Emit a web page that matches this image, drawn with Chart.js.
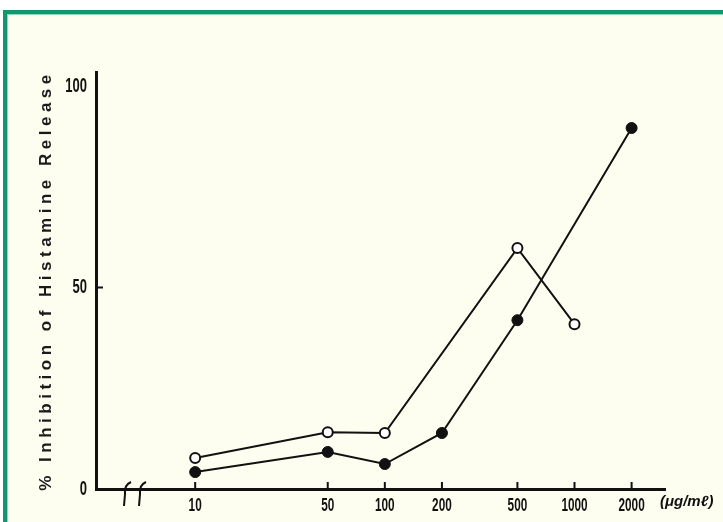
<!DOCTYPE html>
<html>
<head>
<meta charset="utf-8">
<script src="https://cdn.jsdelivr.net/npm/chart.js@4"></script>
<style>
  html, body { margin: 0; padding: 0; background: #ffffff; }
  #frame {
    position: absolute; left: 3px; top: 10px; width: 720px; height: 512px;
    box-sizing: border-box;
    border-left: 4px solid #13956e; border-top: 4px solid #13956e;
    background: #fdfef0;
    box-shadow: inset 1px 1px 0 #8fd6b9;
  }
  #chart { position: absolute; left: 0; top: 0; }
</style>
</head>
<body>
<div id="frame"></div>
<canvas id="chart" width="723" height="522"></canvas>
<script>
// Concentrations (µg/ml) and % inhibition of histamine release
const openDoses   = [10, 50, 100, 500, 1000];
const openValues  = [7.7, 14.1, 13.9, 59.8, 40.9];
const solidDoses  = [10, 50, 100, 200, 500, 2000];
const solidValues = [4.2, 9.2, 6.2, 13.9, 41.9, 89.6];

const xTickValues = [10, 50, 100, 200, 500, 1000, 2000];
const yTickValues = [0, 50, 100];
const yTitle = '% Inhibition of Histamine Release';
const unitLabel = '(\u03bcg/m\u2113)';

const toPoints = (xs, ys) => xs.map((x, i) => ({ x, y: ys[i] }));

// Narrow tick digits and a letter-spaced axis title
const typeface = {
  id: 'typeface',
  beforeInit(chart) {
    const ctx = chart.ctx;
    const fill = ctx.fillText.bind(ctx);
    ctx.fillText = function (text, x, y, maxWidth) {
      if (text === yTitle) {
        const prev = ctx.letterSpacing;
        ctx.letterSpacing = '4.5px';
        fill(text, x, y);
        ctx.letterSpacing = prev || '0px';
        return;
      }
      if (chart.$narrow && maxWidth === undefined) {
        fill(text, x, y, ctx.measureText(String(text)).width * 0.62);
        return;
      }
      if (maxWidth === undefined) fill(text, x, y); else fill(text, x, y, maxWidth);
    };
  },
  beforeDraw(chart) { chart.$narrow = true; },
  beforeDatasetsDraw(chart) { chart.$narrow = false; }
};

// Inward tick marks, axis break and unit label
const axisDecor = {
  id: 'axisDecor',
  afterDraw(chart) {
    const { ctx, chartArea: area, scales: { x, y } } = chart;
    ctx.save();
    ctx.strokeStyle = '#111';
    ctx.lineWidth = 2;
    ctx.beginPath();
    xTickValues.forEach(v => {
      const px = x.getPixelForValue(v);
      ctx.moveTo(px, area.bottom);
      ctx.lineTo(px, area.bottom - 7);
    });
    const py = y.getPixelForValue(50);
    ctx.moveTo(area.left, py);
    ctx.lineTo(area.left + 7, py);
    ctx.stroke();

    // break symbol on the dose axis
    ctx.lineWidth = 2;
    [area.left + 30, area.left + 45].forEach(bx => {
      ctx.beginPath();
      ctx.moveTo(bx + 5, area.bottom - 7);
      ctx.quadraticCurveTo(bx - 2, area.bottom - 4, bx - 1, area.bottom + 5);
      ctx.lineTo(bx - 2, area.bottom + 17);
      ctx.stroke();
    });

    ctx.fillStyle = '#111';
    ctx.font = 'italic bold 15px "Liberation Sans", Arial, sans-serif';
    ctx.textAlign = 'left';
    ctx.textBaseline = 'middle';
    ctx.fillText(unitLabel, area.right - 5, area.bottom + 13, 54);
    ctx.restore();
  }
};

const tickFont = '"Liberation Sans", Arial, sans-serif';

new Chart(document.getElementById('chart'), {
  type: 'line',
  data: {
    datasets: [
      {
        data: toPoints(solidDoses, solidValues),
        borderColor: '#111',
        borderWidth: 2,
        backgroundColor: '#111',
        pointBackgroundColor: '#111',
        pointBorderColor: '#111',
        pointRadius: 5.5,
        pointBorderWidth: 1,
        tension: 0
      },
      {
        data: toPoints(openDoses, openValues),
        borderColor: '#111',
        borderWidth: 2,
        backgroundColor: '#fdfef0',
        pointBackgroundColor: '#ffffff',
        pointBorderColor: '#111',
        pointRadius: 5,
        pointBorderWidth: 2,
        tension: 0
      }
    ]
  },
  options: {
    responsive: false,
    animation: false,
    devicePixelRatio: 1,
    layout: { padding: { top: 72, right: 58, bottom: 0, left: 0 } },
    plugins: { legend: { display: false }, tooltip: { enabled: false } },
    scales: {
      x: {
        type: 'logarithmic',
        min: 3,
        max: 3000,
        afterBuildTicks: s => { s.ticks = xTickValues.map(v => ({ value: v })); },
        afterFit: s => { s.height = 33; },
        grid: { display: false, drawTicks: false },
        border: { display: true, color: '#111', width: 3 },
        ticks: {
          autoSkip: false, maxRotation: 0, minRotation: 0,
          padding: 5,
          color: '#111',
          font: { family: tickFont, size: 19, weight: 'bold' },
          callback: v => String(v)
        }
      },
      y: {
        type: 'linear',
        min: 0,
        max: 103.5,
        afterBuildTicks: s => { s.ticks = yTickValues.map(v => ({ value: v })); },
        afterFit: s => { s.width = 96; },
        grid: { display: false, drawTicks: false },
        border: { display: true, color: '#111', width: 3 },
        ticks: {
          padding: 9,
          color: '#111',
          font: { family: tickFont, size: 21, weight: 'bold' },
          callback: v => String(v)
        },
        title: {
          display: true,
          text: yTitle,
          color: '#1a1a1a',
          padding: { top: 36, bottom: 0 },
          font: { family: tickFont, size: 17, weight: 'bold' }
        }
      }
    }
  },
  plugins: [typeface, axisDecor]
});
</script>
</body>
</html>
